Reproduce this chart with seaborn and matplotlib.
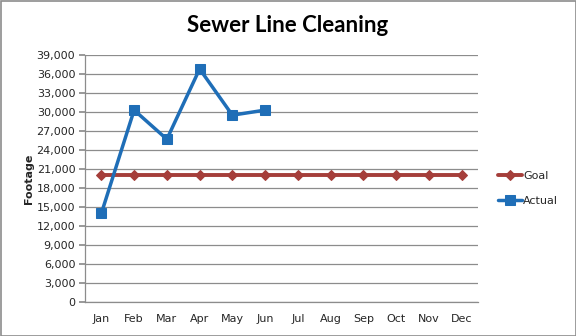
import matplotlib
matplotlib.use("Agg")
import matplotlib.pyplot as plt
import seaborn as sns
import pandas as pd
from matplotlib.ticker import FuncFormatter, MultipleLocator
from matplotlib.patches import Rectangle

months = ["Jan", "Feb", "Mar", "Apr", "May", "Jun", "Jul", "Aug", "Sep", "Oct", "Nov", "Dec"]
goal = [20000] * 12
actual_months = ["Jan", "Feb", "Mar", "Apr", "May", "Jun"]
actual = [14000, 30300, 25700, 36800, 29500, 30300]

sns.set_theme(style="white")
plt.rcParams['font.family'] = ['DejaVu Sans']

fig = plt.figure(figsize=(5.76, 3.36), dpi=100)
ax = fig.add_axes([85/576, 34/336, 393/576, 247/336])

xpos = {m: i for i, m in enumerate(months)}
df_goal = pd.DataFrame({"x": [xpos[m] for m in months], "y": goal, "s": "Goal"})
df_act = pd.DataFrame({"x": [xpos[m] for m in actual_months], "y": actual, "s": "Actual"})

goal_c = "#A53E3A"
act_c = "#1F6EB7"
sns.lineplot(data=df_goal, x="x", y="y", ax=ax, color=goal_c, lw=2.8, marker="D",
             markersize=5, markeredgecolor=goal_c, label="Goal")
sns.lineplot(data=df_act, x="x", y="y", ax=ax, color=act_c, lw=2.5, marker="s",
             markersize=7, markeredgecolor=act_c, label="Actual")

ax.set_xlim(-0.5, 11.5)
ax.set_ylim(0, 39000)
ax.yaxis.set_major_locator(MultipleLocator(3000))
ax.yaxis.set_major_formatter(FuncFormatter(lambda v, p: f"{int(v):,}"))
ax.set_xticks(range(12))
ax.set_xticklabels(months)
ax.grid(axis="y", color="#8c8c8c", lw=0.9)
ax.set_axisbelow(True)
for s in ["top", "right"]:
    ax.spines[s].set_visible(False)
for s in ["left", "bottom"]:
    ax.spines[s].set_color("#8c8c8c")
    ax.spines[s].set_linewidth(0.9)
ax.tick_params(axis="y", length=4, color="#8c8c8c", labelsize=8, pad=3, left=True)
ax.tick_params(axis="x", length=0, labelsize=8, pad=9)
ax.set_xlabel("")
ax.set_ylabel("Footage", fontsize=8, fontweight="bold", labelpad=2)

ax.legend(loc="center left", bbox_to_anchor=(1.025, 0.46), frameon=False, fontsize=8,
          handlelength=2.2, labelspacing=1.3, handletextpad=0.1)

fig.text(0.5, 0.925, "Sewer Line Cleaning", ha="center", va="center",
         fontsize=16, fontweight="bold", family="Lato", color="black")
fig.patches.append(Rectangle((0.5/576, 0.5/336), 575/576, 335/336, transform=fig.transFigure,
                             fill=False, edgecolor="#8c8c8c", lw=1.2))
fig.savefig("out.png", dpi=100)
